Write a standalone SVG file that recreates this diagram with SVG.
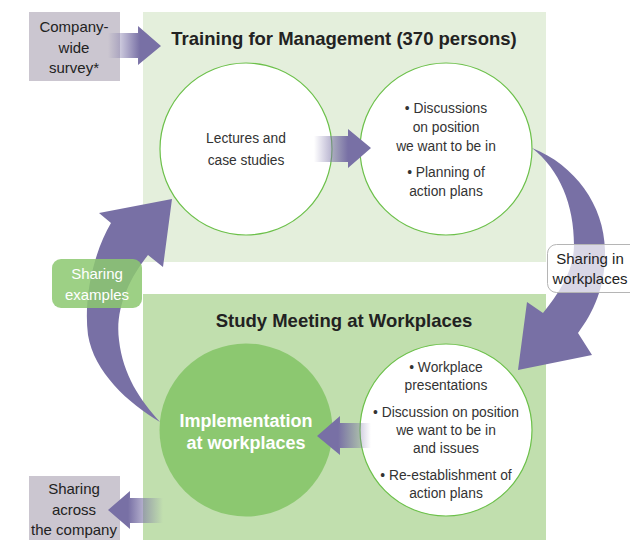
<svg xmlns="http://www.w3.org/2000/svg" width="630" height="540" viewBox="0 0 630 540">
<defs>
<style>
text{font-family:"Liberation Sans","DejaVu Sans",sans-serif;fill:#333;text-anchor:middle}
.b{font-size:13.8px}
.t{font-size:18.5px;font-weight:bold;fill:#222}
.i{font-size:18px;font-weight:bold;fill:#fff}
.g{font-size:15px;fill:#222}
.w{fill:#fff}
.ring{fill:#fff;stroke:#6cc04a;stroke-width:1.2}
.arr{fill:#7870a5}
</style>
<linearGradient id="gSurvey" gradientUnits="userSpaceOnUse" x1="108" y1="0" x2="140" y2="0"><stop offset="0" stop-color="#7870a5" stop-opacity="0"/><stop offset="1" stop-color="#7870a5"/></linearGradient>
<linearGradient id="gTop" gradientUnits="userSpaceOnUse" x1="314" y1="0" x2="348" y2="0"><stop offset="0" stop-color="#7870a5" stop-opacity="0"/><stop offset="1" stop-color="#7870a5"/></linearGradient>
<linearGradient id="gMid" gradientUnits="userSpaceOnUse" x1="371" y1="0" x2="338" y2="0"><stop offset="0" stop-color="#7870a5" stop-opacity="0"/><stop offset="1" stop-color="#7870a5"/></linearGradient>
<linearGradient id="gOut" gradientUnits="userSpaceOnUse" x1="163" y1="0" x2="128" y2="0"><stop offset="0" stop-color="#7870a5" stop-opacity="0"/><stop offset="1" stop-color="#7870a5"/></linearGradient>
</defs>

<g id="panel-training">
<rect x="143" y="12" width="403" height="250" fill="#e4efdc"/>
<text class="t" x="344" y="45">Training for Management (370 persons)</text>
</g>
<g id="panel-study">
<rect x="143" y="294" width="403" height="246" fill="#c1dfae"/>
<text class="t" x="344" y="327">Study Meeting at Workplaces</text>
</g>

<g id="node-survey">
<rect x="29" y="12" width="91" height="69" fill="#cbc6d0"/>
<text class="g" x="74" y="32">Company-</text>
<text class="g" x="74" y="53">wide</text>
<text class="g" x="74" y="73">survey*</text>
</g>

<g id="node-sharing-company">
<rect x="29" y="476" width="91" height="64" fill="#cbc6d0"/>
<text class="g" x="74" y="494">Sharing</text>
<text class="g" x="74" y="515">across</text>
<text class="g" x="74" y="535">the company</text>
</g>

<g id="node-lectures">
<circle class="ring" cx="246" cy="149" r="86"/>
<text class="b" x="246" y="143">Lectures and</text>
<text class="b" x="246" y="165">case studies</text>
</g>

<g id="node-discussions">
<circle class="ring" cx="446" cy="149" r="86"/>
<text class="b" x="446" y="113">• Discussions</text>
<text class="b" x="446" y="132">on position</text>
<text class="b" x="446" y="151">we want to be in</text>
<text class="b" x="446" y="177">• Planning of</text>
<text class="b" x="446" y="196">action plans</text>
</g>

<g id="node-implementation">
<circle cx="246" cy="430" r="86.5" fill="#8cc870"/>
<text class="i" x="246" y="427">Implementation</text>
<text class="i" x="246" y="449">at workplaces</text>
</g>

<g id="node-workplace">
<circle class="ring" cx="446" cy="430" r="86"/>
<text class="b" x="446" y="372">• Workplace</text>
<text class="b" x="446" y="390">presentations</text>
<text class="b" x="446" y="417">• Discussion on position</text>
<text class="b" x="446" y="435">we want to be in</text>
<text class="b" x="446" y="453">and issues</text>
<text class="b" x="446" y="480">• Re-establishment of</text>
<text class="b" x="446" y="498">action plans</text>
</g>

<g id="connectors">
<path fill="url(#gSurvey)" d="M108,33 H138 V26 L161,46 L138,65 V58 H108 Z"/>
<path fill="url(#gTop)" d="M314,136 H348 V129 L371,148 L348,168 V162 H314 Z"/>
<path fill="url(#gMid)" d="M371,423 H340 V416 L317,436 L340,455 V448 H371 Z"/>
<path fill="url(#gOut)" d="M163,498 H130 V491 L108,510 L130,529 V523 H163 Z"/>
<path class="arr" d="M160,422 C128,403 94,372 88,335 C83,295 95,250 111,223 L99,213 L172,199 L163,267 L148,255 C128,280 115,310 119,340 C123,375 140,400 160,422 Z"/>
<path class="arr" d="M532,148 C575,165 604,205 605,250 C606,285 594,312 578,333 L592,355 L518,370 L527,302 L543,313 C560,292 574,270 574,245 C574,205 560,170 532,148 Z"/>
</g>

<g id="label-sharing-examples">
<rect x="52" y="259" width="90" height="49" rx="9" fill="#8cc870" fill-opacity="0.85"/>
<text class="g w" x="97" y="279">Sharing</text>
<text class="g w" x="97" y="300">examples</text>
</g>

<g id="label-sharing-workplaces">
<rect x="547.5" y="244.5" width="95" height="48" rx="9" fill="#fff" fill-opacity="0.72" stroke="#b5b5b5"/>
<text class="g" x="590" y="264">Sharing in</text>
<text class="g" x="590" y="284">workplaces</text>
</g>
</svg>
